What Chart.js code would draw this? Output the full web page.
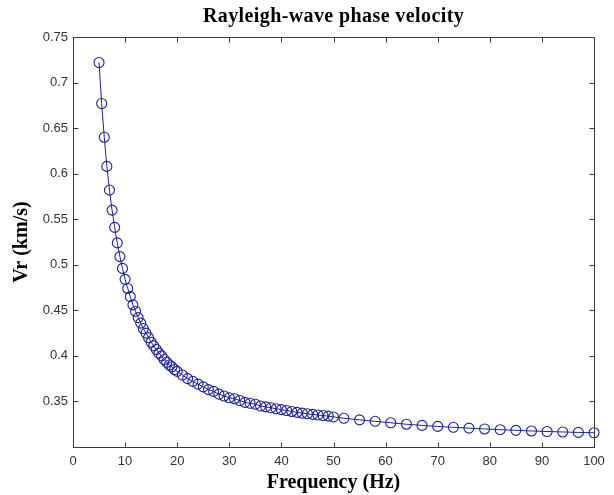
<!DOCTYPE html>
<html>
<head>
<meta charset="utf-8">
<script src="https://cdn.jsdelivr.net/npm/chart.js@4"></script>
<style>
  html, body { margin: 0; padding: 0; background: #fff; }
  #wrap { width: 614px; height: 495px; }
</style>
</head>
<body>
<div id="wrap"><canvas id="chart" width="614" height="495"></canvas></div>
<script>
// frequencies (Hz)
const freqs = [
  5, 5.5, 6, 6.5, 7, 7.5, 8, 8.5, 9, 9.5,
  10, 10.5, 11, 11.5, 12, 12.5, 13, 13.5, 14, 14.5,
  15, 15.5, 16, 16.5, 17, 17.5, 18, 18.5, 19, 19.5,
  20, 21, 22, 23, 24, 25, 26, 27, 28, 29,
  30, 31, 32, 33, 34, 35, 36, 37, 38, 39,
  40, 41, 42, 43, 44, 45, 46, 47, 48, 49,
  50, 52, 55, 58, 61, 64, 67, 70, 73, 76,
  79, 82, 85, 88, 91, 94, 97, 100
];
// phase velocity (km/s)
const velocities = [
  0.722, 0.677, 0.640, 0.608, 0.582, 0.560, 0.541, 0.524, 0.509, 0.496,
  0.484, 0.474, 0.465, 0.456, 0.449, 0.442, 0.436, 0.430, 0.425, 0.420,
  0.415, 0.411, 0.407, 0.403, 0.400, 0.396, 0.393, 0.390, 0.388, 0.385,
  0.383, 0.379, 0.375, 0.372, 0.369, 0.366, 0.363, 0.361, 0.358, 0.356,
  0.354, 0.353, 0.351, 0.349, 0.348, 0.347, 0.345, 0.344, 0.343, 0.342,
  0.341, 0.340, 0.339, 0.338, 0.3372, 0.3365, 0.3358, 0.3351, 0.3345, 0.3339,
  0.3330, 0.3315, 0.3298, 0.3282, 0.3266, 0.3250, 0.3237, 0.3226, 0.3216, 0.3207,
  0.3198, 0.3190, 0.3183, 0.3176, 0.3170, 0.3165, 0.3160, 0.3156
];
const xTicks = [0, 10, 20, 30, 40, 50, 60, 70, 80, 90, 100];
const yTicks = [0.35, 0.4, 0.45, 0.5, 0.55, 0.6, 0.65, 0.7, 0.75];
const titleText = 'Rayleigh-wave phase velocity';

const lineColor = '#20209a';
const frameColor = '#3a3a3a';
const serif = '"Liberation Serif", "Times New Roman", serif';
const sans = '"Liberation Sans", Arial, sans-serif';

// 枠線・内向きの目盛り・タイトルを描く
const matlabBox = {
  id: 'matlabBox',
  afterDraw(chart) {
    const ctx = chart.ctx;
    const { left, right, top, bottom } = chart.chartArea;
    const xs = chart.scales.x;
    const ys = chart.scales.y;
    const L = Math.round(left) + 0.5, R = Math.round(right) + 0.5;
    const T = Math.round(top) + 0.5, B = Math.round(bottom) + 0.5;
    ctx.save();
    ctx.strokeStyle = frameColor;
    ctx.lineWidth = 1;
    ctx.strokeRect(L, T, R - L, B - T);
    ctx.beginPath();
    xTicks.forEach(v => {
      const px = Math.round(xs.getPixelForValue(v)) + 0.5;
      ctx.moveTo(px, B); ctx.lineTo(px, B - 5);
      ctx.moveTo(px, T); ctx.lineTo(px, T + 5);
    });
    yTicks.forEach(v => {
      const py = Math.round(ys.getPixelForValue(v)) + 0.5;
      ctx.moveTo(L, py); ctx.lineTo(L + 5, py);
      ctx.moveTo(R, py); ctx.lineTo(R - 5, py);
    });
    ctx.stroke();
    ctx.fillStyle = '#000';
    ctx.font = 'bold 20px ' + serif;
    ctx.textAlign = 'center';
    ctx.textBaseline = 'middle';
    ctx.letterSpacing = '0.4px';
    ctx.fillText(titleText, (left + right) / 2, 17);
    ctx.restore();
  }
};

const chart = new Chart(document.getElementById('chart'), {
  type: 'line',
  data: {
    datasets: [{
      data: freqs.map((f, i) => ({ x: f, y: velocities[i] })),
      borderColor: lineColor,
      borderWidth: 1,
      pointStyle: 'circle',
      pointRadius: 5,
      pointBorderWidth: 1.1,
      pointBorderColor: lineColor,
      pointBackgroundColor: 'rgba(0,0,0,0)',
      tension: 0,
      clip: false
    }]
  },
  options: {
    responsive: false,
    animation: false,
    devicePixelRatio: 1,
    layout: { padding: { top: 37, right: 20, left: 0, bottom: 0 } },
    plugins: { legend: { display: false }, title: { display: false }, tooltip: { enabled: false } },
    scales: {
      x: {
        type: 'linear',
        min: 0,
        max: 100,
        grid: { display: false, drawTicks: false },
        border: { display: false },
        afterBuildTicks: s => { s.ticks = xTicks.map(v => ({ value: v })); },
        afterFit: s => { s.height = 48; },
        ticks: {
          padding: 7,
          color: '#333',
          font: { family: sans, size: 13 },
          maxRotation: 0,
          callback: v => String(v)
        },
        title: {
          display: true,
          text: 'Frequency (Hz)',
          color: '#000',
          font: { family: serif, size: 20, weight: 'bold' },
          padding: { top: 0, bottom: 0 }
        }
      },
      y: {
        type: 'linear',
        min: 0.3,
        max: 0.75,
        grid: { display: false, drawTicks: false },
        border: { display: false },
        afterBuildTicks: s => { s.ticks = yTicks.map(v => ({ value: v })); },
        afterFit: s => { s.width = 73; },
        ticks: {
          padding: 5,
          color: '#333',
          font: { family: sans, size: 13 },
          callback: v => String(+v.toFixed(2))
        },
        title: {
          display: true,
          text: 'Vr (km/s)',
          color: '#000',
          font: { family: serif, size: 20, weight: 'bold' },
          padding: { top: 10, bottom: 0 }
        }
      }
    }
  },
  plugins: [matlabBox]
});
</script>
</body>
</html>
